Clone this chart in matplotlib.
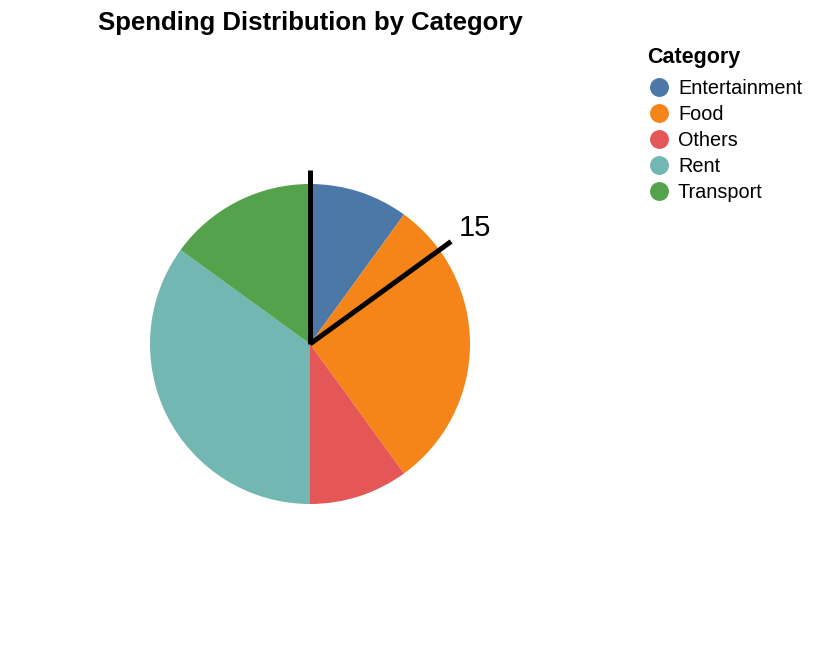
import numpy as np
import matplotlib
matplotlib.use("Agg")
import matplotlib.pyplot as plt

categories = ["Entertainment", "Food", "Others", "Rent", "Transport"]
amounts = [10, 30, 10, 35, 15]
colors = ["#4c78a8", "#f58518", "#e45756", "#72b7b2", "#54a24b"]
needle_value = 15

plt.rcParams["font.family"] = ["Liberation Sans", "DejaVu Sans"]

W, H = 814, 654
fig = plt.figure(figsize=(W / 100, H / 100), dpi=100)
ax = fig.add_axes([0, 0, 1, 1])

cx, cy, r = 310, H - 344, 160

ax.pie(amounts, colors=colors, startangle=90, counterclock=False,
       center=(cx, cy), radius=r, frame=True,
       wedgeprops=dict(linewidth=0))
ax.set_xlim(0, W)
ax.set_ylim(0, H)
ax.set_aspect("equal")
ax.axis("off")

# needle lines: one at zero, one at the value
total = sum(amounts)
for v in [0, needle_value]:
    ang = np.deg2rad(90 - v / total * 360)
    L = r * 1.09
    ax.plot([cx, cx + L * np.cos(ang)], [cy, cy + L * np.sin(ang)],
            color="black", lw=3.6, solid_capstyle="butt", zorder=5)

ang = np.deg2rad(90 - needle_value / total * 360)
ax.text(cx + r * 1.27 * np.cos(ang) + 1, cy + r * 1.27 * np.sin(ang) - 3,
        str(needle_value), fontsize=21, ha="center", va="center")

ax.text(cx, H - 23, "Spending Distribution by Category", fontsize=18.5,
        fontweight="bold", ha="center", va="center")

# legend
ax.text(647, H - 57, "Category", fontsize=15.5, fontweight="bold",
        ha="left", va="center")
for i, (cat, col) in enumerate(zip(categories, colors)):
    y = H - (87 + i * 26)
    ax.scatter([659], [y], s=185, color=col, linewidths=0)
    ax.text(678, y - 2, cat, fontsize=14.3, ha="left", va="center")

fig.savefig("out.png", dpi=100)
